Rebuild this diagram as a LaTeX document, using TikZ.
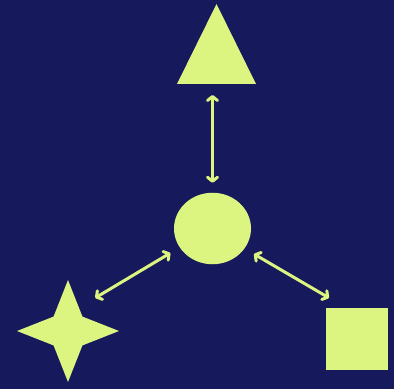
\documentclass[tikz,border=0pt]{standalone}
\usetikzlibrary{shapes.geometric, arrows.meta, positioning, calc}
\definecolor{navy}{HTML}{161A5C}
\definecolor{lime}{HTML}{DCF580}

\begin{document}
\begin{tikzpicture}[
    x=1pt, y=1pt,
    >={Straight Barb[length=4pt, width=10pt, round]},
    blob/.style={fill=lime, draw=none, inner sep=0pt, outer sep=0pt},
    line/.style={draw=lime, line width=3pt, <->}
]
\fill [navy] (0,0) rectangle (394,389);
\useasboundingbox (0,0) rectangle (394,389);

\node [blob, ellipse, minimum width=77pt, minimum height=71.5pt] (hub) at (212.5,160.5) {};
\node [blob, isosceles triangle, isosceles triangle stretches, shape border rotate=90,
       minimum width=79pt, minimum height=80pt, anchor=apex] (peak) at (216.5,385) {};
\node [blob, star, star points=4, star point ratio=2.5, minimum size=102pt] (spark) at (68,58) {};
\node [blob, minimum size=62pt] (block) at (357,50) {};

\path [line, shorten <=11pt, shorten >=10pt] (peak.lower side -| hub.north) -- (hub.north);
\path [line, shorten <=11pt, shorten >=19pt] (hub.210) -- (spark.65);
\path [line, shorten <=11pt, shorten >=20pt] (hub.328) -- (block.109.5);
\end{tikzpicture}
\end{document}
